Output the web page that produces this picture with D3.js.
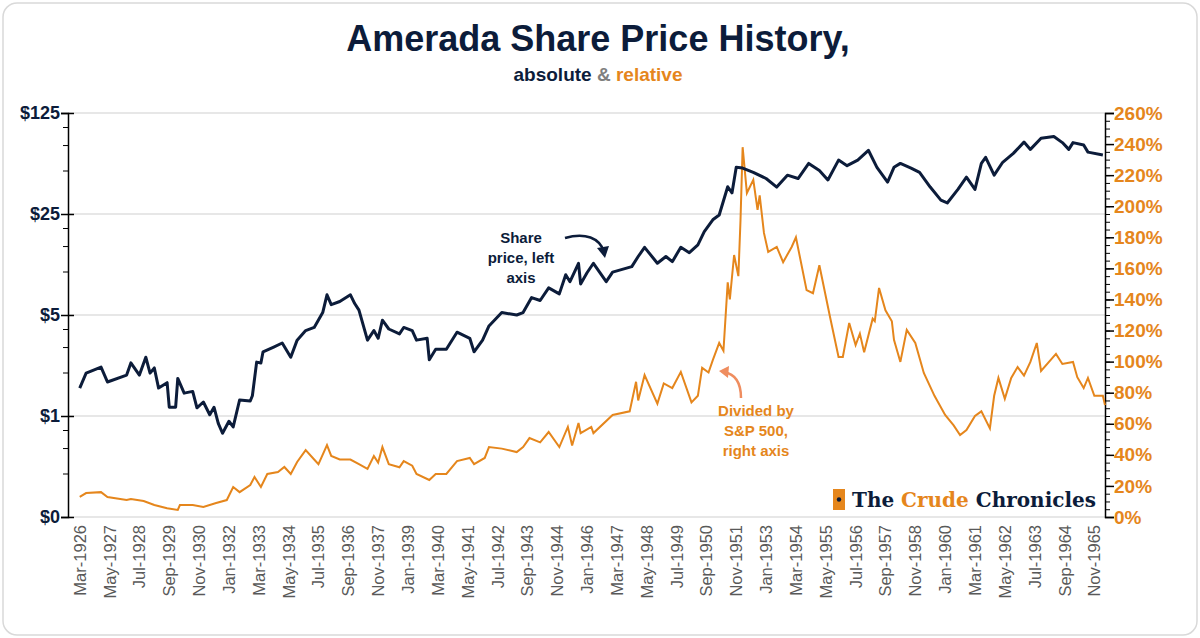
<!DOCTYPE html>
<html><head><meta charset="utf-8">
<script src="https://cdn.jsdelivr.net/npm/d3@7"></script>
<style>
body{margin:0;background:#fff;font-family:"Liberation Sans",Arial,sans-serif;}
</style></head>
<body><svg id="chart" width="1200" height="638"></svg>
<script>
// months counted from Mar-1926
const tickLabels = ['Mar-1926','May-1927','Jul-1928','Sep-1929','Nov-1930','Jan-1932','Mar-1933','May-1934','Jul-1935','Sep-1936','Nov-1937','Jan-1939','Mar-1940','May-1941','Jul-1942','Sep-1943','Nov-1944','Jan-1946','Mar-1947','May-1948','Jul-1949','Sep-1950','Nov-1951','Jan-1953','Mar-1954','May-1955','Jul-1956','Sep-1957','Nov-1958','Jan-1960','Mar-1961','May-1962','Jul-1963','Sep-1964','Nov-1965'];

const priceMonths = [0,3,10,13,22,24,28,31,33,35,37,41,42,45,46,49,53,55,58,61,63,65,67,70,72,75,80,81,83,85,86,91,95,99,102,106,110,114,116,118,122,127,129,131,135,138,140,142,145,150,152,156,158,163,164,167,172,177,183,185,189,192,198,205,208,212,216,220,225,228,230,234,235,238,241,247,250,259,262,265,271,275,278,282,286,290,293,297,300,304,306,308,311,316,322,327,332,337,342,347,351,356,360,365,370,374,379,382,385,390,394,399,404,407,412,416,420,423,425,429,433,438,443,446,451,457,461,464,466,471,473,480];
const priceValues = [1.56,1.98,2.18,1.72,1.92,2.33,1.92,2.55,1.98,2.15,1.56,1.7,1.15,1.15,1.82,1.44,1.48,1.14,1.25,1.02,1.15,0.89,0.76,0.92,0.84,1.29,1.27,1.38,2.36,2.33,2.78,3.0,3.2,2.55,3.35,3.9,4.1,5.2,6.9,5.9,6.2,6.9,6.0,5.4,3.35,3.9,3.45,4.6,4.0,3.7,4.1,3.9,3.35,3.45,2.45,2.9,2.9,3.8,3.45,2.78,3.35,4.2,5.2,5.0,5.2,6.6,6.3,7.7,7.0,9.5,8.5,11.4,8.2,9.8,11.4,8.5,9.9,10.8,12.7,14.7,11.4,12.7,11.7,14.7,13.5,15.3,18.9,22.8,24.6,38.6,35,52.6,52,48.6,44,38.4,46.4,44,56,50,43,59,54,59,69,52.6,41.6,52.6,56,52,48.6,38.4,31.2,29.8,37,45,37,56,61.7,46.4,57,65.7,78.6,70,83.7,86,78,70,78,75,67,64];

const relMonths = [0,3,10,13,22,24,30,35,41,46,47,53,58,64,69,72,75,80,82,85,88,93,96,99,102,106,110,112,116,118,122,127,131,135,138,140,142,145,150,152,156,158,164,167,172,177,183,185,190,192,198,205,208,211,216,220,225,229,231,234,235,240,241,250,258,261,262,265,271,274,278,282,287,290,292,295,297,300,302,304,305,307,309,310,311,313,316,318,319,321,323,327,330,334,336,341,344,347,352,356,358,361,364,366,368,372,373,375,378,381,382,385,388,392,396,401,406,410,413,416,420,423,427,429,431,434,437,440,443,446,449,451,458,461,466,468,471,473,476,480,481];
const relValues = [12.9,15.4,16,12.9,10.9,11.6,10.3,7.7,5.6,4.5,7.7,7.7,6.5,9,10.9,19.3,16,20.6,25.7,19.3,27.7,29,32.2,27.7,35.4,43,37,34,46.3,39.3,37,37,34,31,39.3,35,45,34,32,36,33,27.7,23.8,27.7,27.7,36,38,34,38,45,44,41.8,45,50.8,48,54.7,45,58,46,60.5,54,58,54,65.7,68,87,75,91.4,73,86,83,93.4,73.8,78,96,93,101,112,107,151,140,168.6,155,191,238,208.5,217,197.6,207,182.8,170.6,173.8,164,173.8,180,146,144,162,128.7,103,103,124.9,110.7,118,106,127.6,126,147.4,133,126,114,99.8,120.4,112,92.7,78,65.7,59,52.8,56,65,68,57,78,89.5,76,89.5,96.5,91,99.8,112,94,105,98.5,99.8,90,83,89.5,78,78,72];

const leftTicks = [0.2,1,5,25,125];
const leftTickLabels = ['$0','$1','$5','$25','$125'];
const rightTicks = d3.range(0,261,20);

const navy = '#0c1c3a', orange = '#e5861c';
const svg = d3.select('#chart');

svg.append('rect').attr('x',3).attr('y',3).attr('width',1194).attr('height',632)
  .attr('rx',14).attr('fill','#fff').attr('stroke','#d9d9d9').attr('stroke-width',1.5);

const x0 = 68, x1 = 1105, yTop = 113, yBot = 517;
const x = d3.scaleLinear().domain([-5.5,481]).range([x0,x1]);
const yL = d3.scaleLog().base(5).domain([0.2,125]).range([yBot,yTop]);
const yR = d3.scaleLinear().domain([0,260]).range([yBot,yTop]);

// gridlines
svg.append('g').selectAll('line').data(leftTicks).enter().append('line')
  .attr('x1',x0).attr('x2',x1).attr('y1',d=>yL(d)).attr('y2',d=>yL(d))
  .attr('stroke','#d0d0d0').attr('stroke-width',1.2);

// left axis with minor ticks
const minorL = [];
[0.2,1,5,25].forEach(b => [2,3,4].forEach(m => minorL.push(b*m)));
svg.append('g').attr('transform',`translate(${x0},0)`)
  .call(d3.axisLeft(yL).tickValues(minorL).tickSize(5).tickFormat(''))
  .call(g => g.select('.domain').remove());
svg.append('g').attr('transform',`translate(${x0},0)`)
  .call(d3.axisLeft(yL).tickValues(leftTicks).tickSizeInner(7).tickSizeOuter(7)
    .tickFormat((d,i)=>leftTickLabels[i]))
  .call(g => g.selectAll('path,line').attr('stroke','#000').attr('stroke-width',1.5))
  .call(g => g.selectAll('text').attr('x',-8).attr('fill',navy)
    .style('font-size','18px').style('font-weight','bold'))
  .call(g => g.selectAll('.tick line').attr('x2',-7).attr('x1',6));

// right axis
svg.append('g').attr('transform',`translate(${x1},0)`)
  .call(d3.axisRight(yR).tickValues(d3.range(0,261,5)).tickSize(5).tickFormat(''))
  .call(g => g.select('.domain').remove());
svg.append('g').attr('transform',`translate(${x1},0)`)
  .call(d3.axisRight(yR).tickValues(rightTicks).tickSizeInner(9).tickSizeOuter(9).tickFormat(d=>d+'%'))
  .call(g => g.selectAll('path,line').attr('stroke','#000').attr('stroke-width',1.5))
  .call(g => g.selectAll('text').attr('x',9).attr('fill',orange)
    .style('font-size','19px').style('font-weight','bold'));

// x axis labels
const xl = svg.append('g');
tickLabels.forEach((t,i) => {
  const px = x(i*14);
  xl.append('text').attr('transform',`translate(${px+6},525) rotate(-90)`)
    .attr('text-anchor','end').attr('fill','#595959').style('font-size','16.5px').text(t);
});

// lines
svg.append('path').datum(relMonths.map((m,i)=>[m,relValues[i]]))
  .attr('fill','none').attr('stroke',orange).attr('stroke-width',2)
  .attr('d', d3.line().x(d=>x(d[0])).y(d=>yR(d[1])));
svg.append('path').datum(priceMonths.map((m,i)=>[m,priceValues[i]]))
  .attr('fill','none').attr('stroke',navy).attr('stroke-width',3).attr('stroke-linejoin','round')
  .attr('d', d3.line().x(d=>x(d[0])).y(d=>yL(d[1])));

// title
svg.append('text').attr('x',598).attr('y',51).attr('text-anchor','middle').attr('fill',navy)
  .style('font-size','36px').style('font-weight','bold').text('Amerada Share Price History,');
const sub = svg.append('text').attr('x',598).attr('y',81).attr('text-anchor','middle')
  .style('font-size','19px').style('font-weight','bold');
sub.append('tspan').attr('fill',navy).text('absolute ');
sub.append('tspan').attr('fill','#808080').text('& ');
sub.append('tspan').attr('fill',orange).text('relative');

// annotations
const ann1 = svg.append('text').attr('text-anchor','middle').attr('fill',navy)
  .style('font-size','15px').style('font-weight','bold');
['Share','price, left','axis'].forEach((t,i)=>ann1.append('tspan').attr('x',521).attr('y',243+i*20).text(t));
svg.append('path').attr('d','M565,238 C585,232 600,238 604,252').attr('fill','none')
  .attr('stroke',navy).attr('stroke-width',2.5);
svg.append('path').attr('d','M597,248 L605,258 L609,246 Z').attr('fill',navy);

const ann2 = svg.append('text').attr('text-anchor','middle').attr('fill',orange)
  .style('font-size','15px').style('font-weight','bold');
['Divided by','S&P 500,','right axis'].forEach((t,i)=>ann2.append('tspan').attr('x',756).attr('y',416+i*20).text(t));
svg.append('path').attr('d','M741,398 C741,382 735,374 724,372').attr('fill','none')
  .attr('stroke','#ef8d5f').attr('stroke-width',2.5);
svg.append('path').attr('d','M729,366 L719,371 L728,378 Z').attr('fill','#ef8d5f');

// logo
svg.append('rect').attr('x',833).attr('y',489).attr('width',12).attr('height',21).attr('fill',orange);
svg.append('circle').attr('cx',839).attr('cy',499.5).attr('r',2.2).attr('fill',navy);
const logo = svg.append('text').attr('x',852).attr('y',507).attr('textLength',244)
  .style('font-size','20px').style('font-weight','bold').style('font-family','"DejaVu Serif",serif');
logo.append('tspan').attr('fill',navy).text('The ');
logo.append('tspan').attr('fill',orange).text('Crude ');
logo.append('tspan').attr('fill',navy).text('Chronicles');
</script></body></html>
